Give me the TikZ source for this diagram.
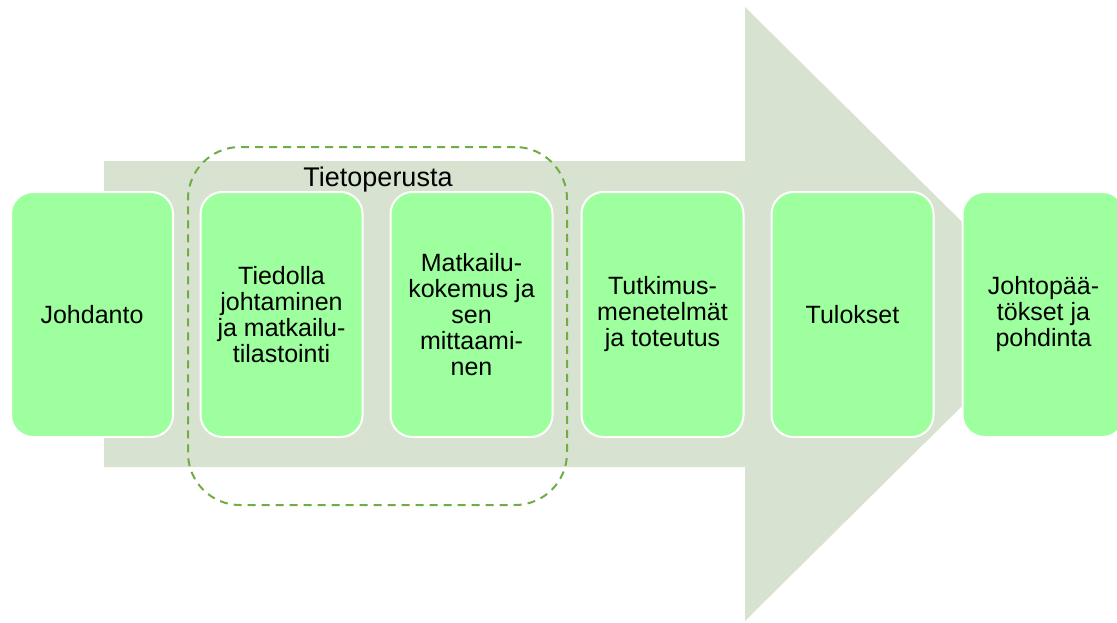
\documentclass[tikz,border=0pt]{standalone}
\usepackage{fontspec}
\setmainfont{Liberation Sans}
\definecolor{arrowfill}{RGB}{215,227,208}
\definecolor{stepfill}{RGB}{157,255,157}
\definecolor{groupline}{RGB}{112,173,71}
\begin{document}
\begin{tikzpicture}[x=1pt,y=-1pt,
  stepbox/.style={draw=white, line width=2pt, fill=stepfill, rounded corners=22pt,
    minimum width=162pt, minimum height=245pt, inner sep=0pt, align=center,
    font=\fontsize{25}{26}\selectfont},
  groupbox/.style={draw=groupline, line width=2pt, dash pattern=on 8pt off 6pt,
    rounded corners=52pt, minimum width=379pt, minimum height=358pt, inner sep=0pt},
  grouplabel/.style={font=\fontsize{27}{30}\selectfont, inner sep=0pt}]
\useasboundingbox (0,0) rectangle (1117,622);
\begin{scope}
\clip (0,0) rectangle (1117,622);
% background block arrow
\fill[arrowfill] (104,161) -- (745,161) -- (745,7) -- (1055,314)
  -- (745,621) -- (745,467) -- (104,467) -- cycle;
% dashed group frame and its title
\node[groupbox] (group) at (377.5,326) {};
\node[grouplabel] (grouptitle) at (378,180) {Tietoperusta};
% process steps
\node[stepbox] (s1) at (92,314.5) {Johdanto};
\node[stepbox] (s2) at (281.5,314.5) {Tiedolla\\johtaminen\\ja matkailu-\\tilastointi};
\node[stepbox] (s3) at (471.5,314.5) {Matkailu-\\kokemus ja\\sen\\mittaami-\\nen};
\node[stepbox] (s4) at (662.5,314.5) {Tutkimus-\\menetelmät\\ja toteutus};
\node[stepbox] (s5) at (852.5,314.5) {Tulokset};
\node[stepbox] (s6) at (1043.5,314.5) {Johtopää-\\tökset ja\\pohdinta};
\end{scope}
\end{tikzpicture}
\end{document}
